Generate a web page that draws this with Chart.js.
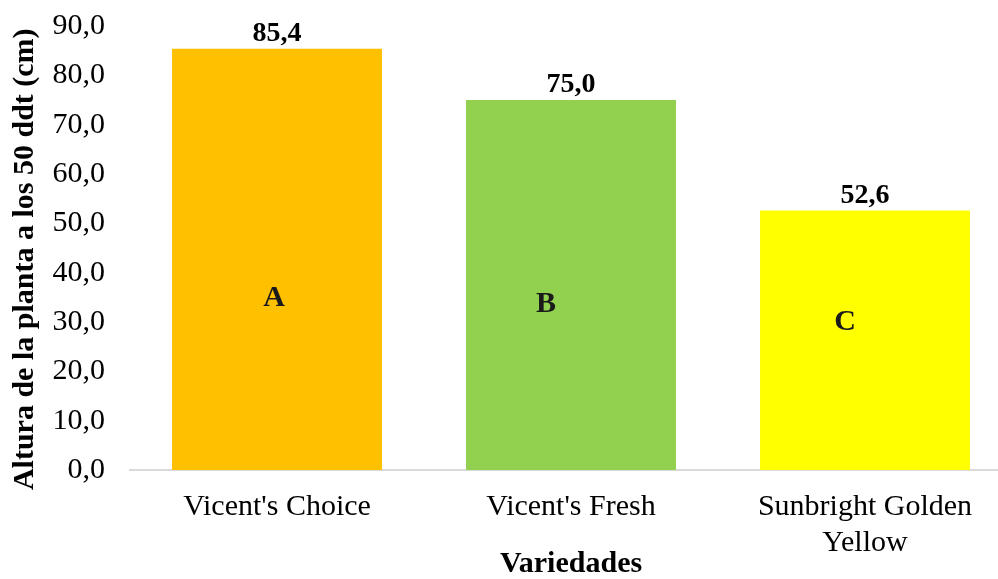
<!DOCTYPE html>
<html>
<head>
<meta charset="utf-8">
<script src="https://cdn.jsdelivr.net/npm/chart.js@4"></script>
<style>
html, body { margin: 0; padding: 0; background: #fff; overflow: hidden; width: 998px; height: 579px; }
#wrap { position: absolute; left: 0; top: 0; width: 1014px; height: 579px; }
</style>
</head>
<body>
<div id="wrap"><canvas id="c" width="1014" height="579"></canvas></div>
<script>
const categories = ["Vicent's Choice", "Vicent's Fresh", ["Sunbright Golden", "Yellow"]];
const values = [85.4, 75.0, 52.6];
const barColors = ['#FFC000', '#92D050', '#FFFF00'];
const groupLetters = ['A', 'B', 'C'];
const letterValues = [34.9, 33.5, 30.0];
const letterShift = [-0.01, -0.085, -0.068];
const yTicks = { min: 0, max: 90, step: 10 };
const yTitle = 'Altura de la planta a los 50 ddt (cm)';
const xTitle = 'Variedades';

const FONT = '"Liberation Serif", "Times New Roman", serif';
const fmt = v => v.toFixed(1).replace('.', ',');

const labelPlugin = {
  id: 'labels',
  afterDatasetsDraw(chart) {
    const ctx = chart.ctx;
    const meta = chart.getDatasetMeta(0);
    const xs = chart.scales.x, ys = chart.scales.y;
    ctx.save();
    ctx.fillStyle = '#000';
    ctx.textAlign = 'center';
    ctx.font = 'bold 28px ' + FONT;
    ctx.textBaseline = 'alphabetic';
    meta.data.forEach((bar, i) => {
      ctx.fillText(fmt(values[i]), bar.x, bar.y - 8);
    });
    ctx.fillStyle = '#1a1a1a';
    ctx.textBaseline = 'middle';
    ctx.font = 'bold 30px ' + FONT;
    groupLetters.forEach((l, i) => {
      const x = xs.getPixelForValue(i + letterShift[i]);
      const y = ys.getPixelForValue(letterValues[i]);
      ctx.fillText(l, x, y);
    });
    ctx.restore();
  }
};

new Chart(document.getElementById('c'), {
  type: 'bar',
  data: {
    labels: categories,
    datasets: [{
      data: values,
      backgroundColor: barColors,
      borderWidth: 0,
      barPercentage: 0.714,
      categoryPercentage: 1.0
    }]
  },
  options: {
    responsive: false,
    animation: false,
    layout: { padding: { top: 26, right: 2, left: 0, bottom: 0 } },
    plugins: { legend: { display: false }, tooltip: { enabled: false } },
    scales: {
      x: {
        grid: { display: false, drawTicks: false },
        border: { display: true, color: '#d9d9d9', width: 2 },
        ticks: { color: '#000', font: { family: FONT, size: 30 }, padding: 19, maxRotation: 0, autoSkip: false },
        title: { display: true, text: xTitle, color: '#000', font: { family: FONT, size: 30, weight: 'bold', lineHeight: 1.0 }, padding: { top: 0, bottom: 0 } },
        afterFit(scale) { scale.height = 109; }
      },
      y: {
        min: yTicks.min, max: yTicks.max,
        grid: { display: false, drawTicks: true, tickLength: 22 },
        border: { display: false },
        ticks: { stepSize: yTicks.step, color: '#000', font: { family: FONT, size: 30 }, padding: 3, callback: v => fmt(v) },
        title: { display: true, text: yTitle + '\u00A0\u00A0\u00A0', color: '#000', font: { family: FONT, size: 30, weight: 'bold' }, padding: { top: 7, bottom: 0 } },
        afterFit(scale) { scale.width = 130; }
      }
    }
  },
  plugins: [labelPlugin]
});
</script>
</body>
</html>
